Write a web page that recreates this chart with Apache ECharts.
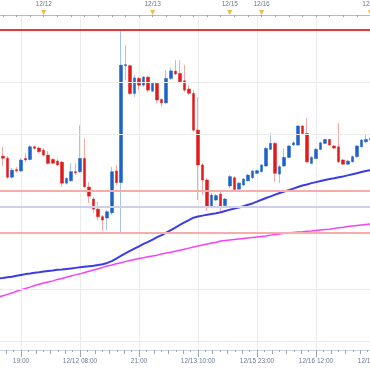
<!DOCTYPE html>
<html><head><meta charset="utf-8">
<script src="https://cdn.jsdelivr.net/npm/echarts@6/dist/echarts.min.js"></script>
<style>html,body{margin:0;padding:0;background:#fff}#c{width:370px;height:370px}</style>
</head><body><div id="c"></div><script>
// ---- categories (hourly candles, weekend gap collapsed) ----
const categories = [
'12/11 06:00','12/11 07:00','12/11 08:00','12/11 09:00','12/11 10:00','12/11 11:00','12/11 12:00','12/11 13:00','12/11 14:00','12/11 15:00','12/11 16:00','12/11 17:00','12/11 18:00','12/11 19:00','12/11 20:00','12/11 21:00','12/11 22:00','12/11 23:00',
'12/12 00:00','12/12 01:00','12/12 02:00','12/12 03:00','12/12 04:00','12/12 05:00','12/12 06:00','12/12 07:00','12/12 08:00','12/12 09:00','12/12 10:00','12/12 11:00','12/12 12:00','12/12 13:00','12/12 14:00','12/12 15:00','12/12 16:00','12/12 17:00','12/12 18:00','12/12 19:00','12/12 20:00','12/12 21:00','12/12 22:00','12/12 23:00',
'12/13 00:00','12/13 01:00','12/13 02:00','12/13 03:00','12/13 04:00','12/13 05:00','12/13 06:00','12/13 07:00','12/13 08:00','12/13 09:00','12/13 10:00','12/13 11:00','12/13 12:00','12/13 13:00','12/13 14:00','12/13 15:00','12/13 16:00',
'12/15 17:00','12/15 18:00','12/15 19:00','12/15 20:00','12/15 21:00','12/15 22:00','12/15 23:00',
'12/16 00:00','12/16 01:00','12/16 02:00','12/16 03:00','12/16 04:00','12/16 05:00','12/16 06:00','12/16 07:00','12/16 08:00','12/16 09:00','12/16 10:00','12/16 11:00','12/16 12:00','12/16 13:00','12/16 14:00','12/16 15:00','12/16 16:00','12/16 17:00','12/16 18:00','12/16 19:00','12/16 20:00','12/16 21:00','12/16 22:00','12/16 23:00',
'12/17 00:00','12/17 01:00'
];

// ---- candles (first value belongs to category index firstCandle) ----
const firstCandle = 9;
const open = [
103.314,103.306,103.233,103.262,103.257,103.305,103.301,103.350,103.345,103.337,
103.318,103.301,103.295,103.291,103.210,103.219,103.254,103.254,103.305,103.195,
103.149,103.110,103.081,103.076,103.096,103.257,103.212,103.662,103.662,103.555,
103.613,103.587,103.618,103.564,103.594,103.532,103.519,103.613,103.641,103.632,
103.604,103.572,103.555,103.414,103.280,103.222,103.122,103.145,103.168,103.124,
103.199,103.231,103.187,103.203,103.219,103.231,103.248,103.254,103.276,103.340,
103.363,103.245,103.276,103.309,103.357,103.357,103.430,103.401,103.286,103.305,
103.340,103.363,103.378,103.353,103.350,103.299,103.283,103.292,103.312,103.350,
103.369,103.376];
const close = [
103.306,103.233,103.260,103.257,103.299,103.299,103.350,103.344,103.331,103.318,
103.286,103.287,103.280,103.210,103.228,103.254,103.250,103.305,103.196,103.160,
103.110,103.081,103.068,103.100,103.254,103.212,103.664,103.666,103.555,103.615,
103.587,103.618,103.568,103.594,103.530,103.519,103.613,103.642,103.630,103.600,
103.568,103.556,103.414,103.280,103.222,103.122,103.164,103.162,103.122,103.149,
103.235,103.186,103.210,103.226,103.241,103.257,103.258,103.280,103.344,103.363,
103.248,103.273,103.309,103.353,103.365,103.430,103.401,103.292,103.309,103.340,
103.365,103.378,103.357,103.345,103.292,103.283,103.295,103.312,103.353,103.376,
103.378,103.383];
const low = [
103.276,103.226,103.226,103.251,103.253,103.291,103.297,103.339,103.326,103.312,
103.282,103.282,103.276,103.196,103.205,103.215,103.241,103.249,103.191,103.133,
103.094,103.068,103.026,103.030,103.087,103.203,103.014,103.606,103.549,103.542,
103.568,103.581,103.560,103.560,103.517,103.503,103.515,103.606,103.626,103.594,
103.560,103.549,103.407,103.145,103.164,103.103,103.118,103.141,103.100,103.118,
103.191,103.180,103.183,103.199,103.216,103.226,103.245,103.251,103.272,103.337,
103.215,103.210,103.272,103.306,103.353,103.353,103.399,103.287,103.282,103.303,
103.337,103.360,103.353,103.341,103.289,103.280,103.280,103.289,103.308,103.347,
103.366,103.372];
const high = [
103.349,103.314,103.268,103.272,103.305,103.326,103.357,103.355,103.351,103.345,
103.333,103.306,103.303,103.295,103.233,103.286,103.286,103.433,103.382,103.214,
103.157,103.137,103.087,103.106,103.273,103.280,103.795,103.741,103.666,103.626,
103.619,103.622,103.622,103.599,103.599,103.537,103.645,103.656,103.683,103.683,
103.664,103.587,103.568,103.541,103.287,103.230,103.172,103.168,103.176,103.153,
103.241,103.237,103.214,103.230,103.245,103.260,103.262,103.283,103.349,103.403,
103.368,103.280,103.345,103.357,103.372,103.433,103.433,103.459,103.314,103.345,
103.370,103.381,103.381,103.357,103.441,103.303,103.299,103.316,103.357,103.380,
103.395,103.399];

// ---- moving averages (first value belongs to category index maStart) ----
const maStart = 8;
const maBlue = [
102.843,102.845,102.848,102.850,102.854,102.857,102.860,102.862,102.865,102.867,
102.870,102.872,102.874,102.877,102.878,102.880,102.882,102.884,102.886,102.888,
102.890,102.892,102.895,102.898,102.903,102.910,102.920,102.930,102.940,102.949,
102.958,102.967,102.976,102.984,102.993,103.002,103.010,103.020,103.029,103.039,
103.049,103.059,103.068,103.077,103.082,103.085,103.088,103.091,103.094,103.098,
103.103,103.108,103.112,103.116,103.121,103.127,103.132,103.139,103.146,103.153,
103.159,103.166,103.172,103.178,103.183,103.189,103.195,103.201,103.205,103.210,
103.214,103.218,103.222,103.226,103.229,103.233,103.236,103.240,103.244,103.248,
103.253,103.257,103.260,103.264];
const maPink = [
102.771,102.777,102.782,102.787,102.794,102.800,102.805,102.810,102.816,102.821,
102.826,102.830,102.834,102.839,102.843,102.848,102.853,102.857,102.861,102.866,
102.871,102.876,102.881,102.886,102.891,102.895,102.900,102.904,102.908,102.912,
102.916,102.920,102.923,102.927,102.930,102.933,102.937,102.941,102.944,102.948,
102.952,102.956,102.960,102.964,102.968,102.972,102.976,102.980,102.983,102.987,
102.989,102.991,102.993,102.995,102.997,102.999,103.001,103.003,103.005,103.007,
103.010,103.012,103.014,103.017,103.018,103.020,103.022,103.023,103.025,103.026,
103.028,103.030,103.032,103.033,103.036,103.038,103.040,103.043,103.045,103.047,
103.049,103.051,103.053,103.055];

// ---- horizontal levels and grid lines (price values) ----
const levelValues = [103.795, 103.180, 103.122, 103.022];
const gridValues = [103.6, 103.4, 102.8, 102.6];
const yRange = [102.568, 103.857];

// ---- tick labels ----
const bottomTickLabels = ['12/11 06:00','19:00','12/12 08:00','21:00','12/13 10:00','12/15 23:00','12/16 12:00','12/17 01:00'];
const topLabelIdx = [18, 42, 59, 66, 90];
const topLabels = ['12/12','12/13','12/15','12/16','12/17'];

// ---- styles ----
const levelStyles = [
  {color:'#ec3434', width:2},
  {color:'#f7abab', width:2},
  {color:'#cdd0e8', width:2},
  {color:'#f7abab', width:2}
];
const UP = '#1d62c8', DOWN = '#e11a1a', UP_W = '#a6c3ec', DOWN_W = '#f5a8a8';
const LABEL = '#6c7a93';

const N = categories.length;
const pad = (arr, start) => categories.map((_, i) => { const k = i - start; return (k >= 0 && k < arr.length) ? arr[k] : '-'; });
const ohlc = categories.map((_, i) => { const k = i - firstCandle; return (k >= 0 && k < open.length) ? [open[k], close[k], low[k], high[k]] : ['-','-','-','-']; });
const bodies = ohlc.map(r => r[0] === '-' ? r : [r[0], r[1], Math.min(r[0], r[1]), Math.max(r[0], r[1])]);

const chart = echarts.init(document.getElementById('c'), null, {renderer: 'canvas'});
chart.setOption({
  animation: false,
  backgroundColor: '#ffffff',
  textStyle: {fontFamily: '"Liberation Sans", Arial, sans-serif'},
  grid: [
    {left: -38, right: -5, top: 15, bottom: 20, containLabel: false, outerBoundsMode: 'none'},
    {left: -38, right: -5, top: 10, height: 5, containLabel: false, outerBoundsMode: 'none'}
  ],
  xAxis: [
    {type: 'category', gridIndex: 0, data: categories, boundaryGap: false, show: false},
    {type: 'category', gridIndex: 1, data: categories, boundaryGap: false, position: 'top',
      axisLine: {lineStyle: {color: '#b3bbc5', width: 1}},
      axisTick: {inside: true, length: 2, interval: (i) => i % 3 === 0, lineStyle: {color: '#98a1ab'}},
      axisLabel: {interval: (i) => topLabelIdx.includes(i), formatter: (v, i) => topLabels[topLabelIdx.indexOf(i)],
        fontSize: 6.5, color: LABEL, margin: 2},
      splitLine: {show: false}},
    {type: 'value', gridIndex: 0, position: 'bottom', min: 0, max: N - 1, interval: 13,
      axisLine: {lineStyle: {color: '#c6d4e4', width: 1}},
      axisTick: {length: 7, lineStyle: {color: '#9ea6b0'}},
      minorTick: {show: true, splitNumber: 8, length: 2, lineStyle: {color: '#9ea6b0'}},
      splitLine: {show: true, lineStyle: {color: '#ebebeb', width: 1}},
      minorSplitLine: {show: false},
      axisLabel: {formatter: (v) => bottomTickLabels[Math.round(v / 13)], fontSize: 6.5, color: LABEL, margin: 8,
        showMinLabel: true, showMaxLabel: true}},
    {type: 'value', gridIndex: 0, position: 'bottom', min: 0, max: N - 1, interval: 13,
      axisLine: {show: false}, axisTick: {show: false}, axisLabel: {show: false}, splitLine: {show: false},
      minorTick: {show: true, splitNumber: 4, length: 4, lineStyle: {color: '#9ea6b0'}}}
  ],
  yAxis: [
    {type: 'value', gridIndex: 0, min: yRange[0], max: yRange[1], show: false},
    {type: 'value', gridIndex: 1, min: 0, max: 1, show: false}
  ],
  series: [
    {type: 'line', name: 'MA long', xAxisIndex: 0, yAxisIndex: 0, data: pad(maPink, maStart),
      symbol: 'none', showSymbol: false, silent: true, lineStyle: {color: '#f443f4', width: 1.5},
      markLine: {silent: true, symbol: ['none', 'none'], label: {show: false},
        data: [
          ...gridValues.map(v => ({yAxis: v, lineStyle: {color: '#ebebeb', width: 1, type: 'solid'}})),
          ...levelValues.map((v, i) => ({yAxis: v, lineStyle: Object.assign({type: 'solid'}, levelStyles[i])}))
        ]}},
    {type: 'line', name: 'MA short', xAxisIndex: 0, yAxisIndex: 0, data: pad(maBlue, maStart),
      symbol: 'none', showSymbol: false, silent: true, lineStyle: {color: '#3c3ce6', width: 2}},
    {type: 'candlestick', name: 'wick', xAxisIndex: 0, yAxisIndex: 0, data: ohlc, barWidth: 1, silent: true,
      itemStyle: {color: UP_W, color0: DOWN_W, borderColor: UP_W, borderColor0: DOWN_W, borderWidth: 1}},
    {type: 'candlestick', name: 'body', xAxisIndex: 0, yAxisIndex: 0, data: bodies, barWidth: 3, silent: true,
      itemStyle: {color: UP, color0: DOWN, borderColor: UP, borderColor0: DOWN, borderWidth: 0.5}},
    {type: 'scatter', xAxisIndex: 1, yAxisIndex: 1, data: topLabelIdx.map(i => [i, 0.5]),
      symbol: 'triangle', symbolRotate: 180, symbolSize: [5, 5], itemStyle: {color: '#f2a21c'}, clip: false, silent: true}
  ]
});
</script></body></html>
